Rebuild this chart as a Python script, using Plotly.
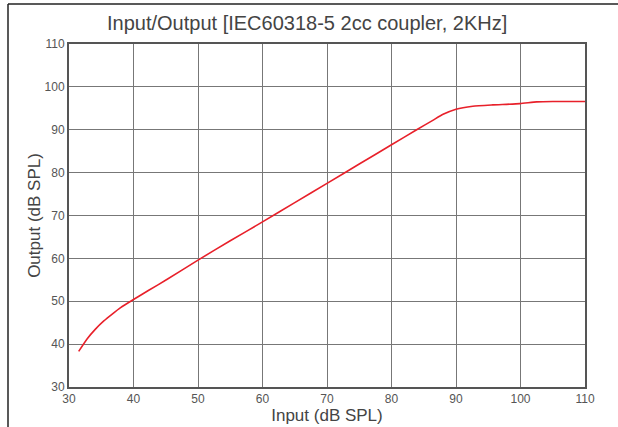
import plotly.graph_objects as go

input_db = [31.5, 32.8, 34.1, 35.4, 36.7, 38.0, 40.0, 42.3, 45.1, 50.0, 55.0, 60.0, 65.0, 70.0, 75.0, 80.0, 83.9, 86.4, 88.0, 90.0, 92.6, 95.7, 99.9, 102.5, 105.0, 110.0]
output_db = [38.3, 41.2, 43.5, 45.4, 47.0, 48.5, 50.4, 52.5, 55.0, 59.6, 64.1, 68.5, 73.0, 77.5, 82.0, 86.5, 90.0, 92.2, 93.6, 94.8, 95.5, 95.8, 96.1, 96.5, 96.6, 96.6]

x_ticks = [30, 40, 50, 60, 70, 80, 90, 100, 110]
y_ticks = [30, 40, 50, 60, 70, 80, 90, 100, 110]

FONT = "Liberation Sans, Arial, sans-serif"

fig = go.Figure()
fig.add_trace(go.Scatter(
    x=input_db, y=output_db, mode="lines",
    line=dict(color="#e8202a", width=1.6, shape="spline", smoothing=0.5),
    hoverinfo="skip", showlegend=False,
))

L, R, T, B = 69, 33, 44, 40
W, H = 618, 427
pw, ph = W - L - R, H - T - B

fig.update_layout(
    width=W, height=H,
    margin=dict(l=L, r=R, t=T, b=B, pad=0),
    paper_bgcolor="white", plot_bgcolor="white",
    title=dict(text="Input/Output [IEC60318-5 2cc coupler, 2KHz]", x=0.497, xref="container",
               xanchor="center", y=1 - 23 / H, yanchor="middle", yref="container",
               font=dict(family=FONT, size=20, color="#444444")),
    font=dict(family=FONT),
)

fig.update_xaxes(
    range=[30, 110], tickvals=x_ticks, ticktext=[str(v) for v in x_ticks],
    showgrid=True, gridcolor="#777777", gridwidth=1,
    showline=True, linecolor="#555555", linewidth=2, mirror=True,
    ticks="", zeroline=False, automargin=False,
    tickfont=dict(family=FONT, size=12, color="#555555"),
    title=dict(text="Input (dB SPL)", font=dict(family=FONT, size=17, color="#444444"), standoff=3),
)
fig.update_yaxes(
    range=[30, 110], tickvals=y_ticks, ticktext=[str(v) for v in y_ticks],
    showgrid=True, gridcolor="#777777", gridwidth=1,
    showline=True, linecolor="#555555", linewidth=2, mirror=True,
    ticks="", zeroline=False, automargin=False,
    tickfont=dict(family=FONT, size=12, color="#555555"),
    title=dict(text="Output (dB SPL)", font=dict(family=FONT, size=17, color="#444444"), standoff=0),
)

# outer frame (top and left edges visible)
x_left = (8 - L) / pw
y_top = (H - B - 4) / ph
fig.add_shape(type="line", xref="paper", yref="paper", x0=x_left, x1=1.2, y0=y_top, y1=y_top,
              line=dict(color="#222222", width=1.5))
fig.add_shape(type="line", xref="paper", yref="paper", x0=x_left, x1=x_left, y0=y_top, y1=-0.2,
              line=dict(color="#222222", width=1.5))

fig.write_html("out.html", config={"displayModeBar": False},
               post_script="document.body.style.margin='0';document.body.style.overflow='hidden';")
